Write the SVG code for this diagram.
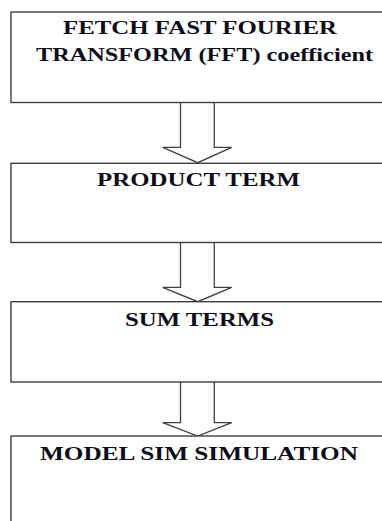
<svg xmlns="http://www.w3.org/2000/svg" width="382" height="521" viewBox="0 0 382 521">
<style>
.box{fill:#ffffff;stroke:#404040;stroke-width:1.4}
.arr{fill:#ffffff;stroke:#404040;stroke-width:1.3;stroke-linejoin:miter}
.t{font-family:"Liberation Serif","Times New Roman",serif;font-weight:bold;font-size:18.5px;fill:#0d0d1a}
</style>
<rect width="382" height="521" fill="#ffffff"/>
<g id="connectors">
<path class="arr" d="M180.5,102.5 V147.3 H162.7 L197.7,162.7 L231.7,147.3 H214.3 V102.5"/>
<path class="arr" d="M180.5,242.5 V287.3 H162.7 L197.7,301.7 L231.7,287.3 H214.3 V242.5"/>
<path class="arr" d="M180.5,382 V422.7 H162.7 L197.7,436 L231.7,422.7 H214.3 V382"/>
</g>
<g id="node1">
<rect class="box" x="11" y="12" width="380" height="90.5"/>
<text class="t" x="63" y="33.5" textLength="274" lengthAdjust="spacingAndGlyphs">FETCH FAST FOURIER</text>
<text class="t" x="36" y="60.5" textLength="337" lengthAdjust="spacingAndGlyphs">TRANSFORM (FFT) coefficient</text>
</g>
<g id="node2">
<rect class="box" x="11" y="163.3" width="380" height="79.2"/>
<text class="t" x="97" y="186.3" textLength="203" lengthAdjust="spacingAndGlyphs">PRODUCT TERM</text>
</g>
<g id="node3">
<rect class="box" x="11" y="301.7" width="380" height="80.3"/>
<text class="t" x="125" y="325.5" textLength="149" lengthAdjust="spacingAndGlyphs">SUM TERMS</text>
</g>
<g id="node4">
<rect class="box" x="11" y="436" width="380" height="100"/>
<text class="t" x="40" y="460" textLength="318" lengthAdjust="spacingAndGlyphs">MODEL SIM SIMULATION</text>
</g>
</svg>
